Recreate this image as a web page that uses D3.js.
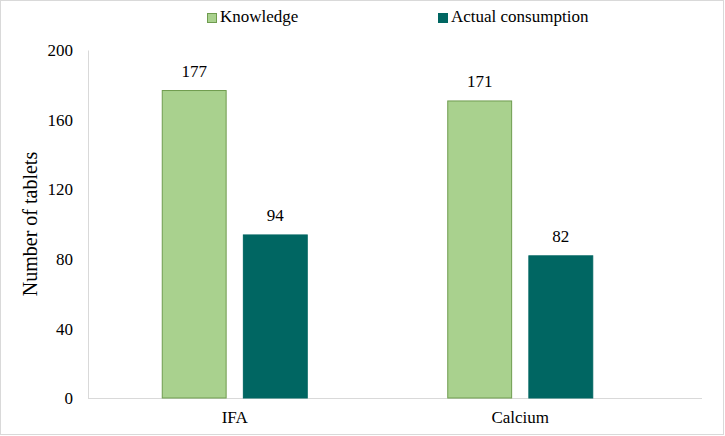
<!DOCTYPE html>
<html>
<head>
<meta charset="utf-8">
<script src="https://cdn.jsdelivr.net/npm/d3@7"></script>
<style>
  body { margin: 0; background: #fff; }
  svg text { font-family: "Liberation Serif", "Times New Roman", serif; fill: #000; }
</style>
</head>
<body>
<svg id="chart" width="725" height="436"></svg>
<script>
// chart data
var categories = ["IFA", "Calcium"];
var seriesNames = ["Knowledge", "Actual consumption"];
var knowledge = [177, 171];
var actual = [94, 82];
var yTicks = [0, 40, 80, 120, 160, 200];

var colors = { "Knowledge": "#a9d18e", "Actual consumption": "#006662" };
var strokes = { "Knowledge": "#6f9c4f", "Actual consumption": "#006662" };

var W = 725, H = 436,
    plotLeft = 88, plotRight = 702,
    plotTop = 50, plotBottom = 398;

var svg = d3.select("#chart");

// outer border
svg.append("rect")
    .attr("x", 0.5).attr("y", 0.5)
    .attr("width", W - 2).attr("height", H - 2)
    .attr("fill", "#fff")
    .attr("stroke", "#d9d9d9");

var x = d3.scaleBand()
    .domain(categories)
    .range([92, 663]);

var inner = d3.scaleBand()
    .domain(seriesNames)
    .range([x.bandwidth() / 2 - 73, x.bandwidth() / 2 + 73])
    .paddingInner(0.2);

var y = d3.scaleLinear()
    .domain([0, 200])
    .range([plotBottom, plotTop]);

// y axis
var yAxis = svg.append("g")
    .attr("transform", "translate(" + plotLeft + ",0)")
    .call(d3.axisLeft(y).tickValues(yTicks).tickSize(0).tickPadding(15));
yAxis.attr("font-family", null);
yAxis.select(".domain").attr("stroke", "#d9d9d9");
yAxis.selectAll("text")
    .style("font-size", "17px")
    .attr("dy", "0.34em");

// x axis line
svg.append("line")
    .attr("x1", plotLeft).attr("x2", plotRight)
    .attr("y1", plotBottom + 0.5).attr("y2", plotBottom + 0.5)
    .attr("stroke", "#d9d9d9");

svg.selectAll(".xlabel")
    .data(categories)
    .enter()
  .append("text")
    .attr("class", "xlabel")
    .attr("x", d => x(d) + x.bandwidth() / 2)
    .attr("y", 423)
    .attr("text-anchor", "middle")
    .style("font-size", "17px")
    .text(d => d);

// y title
svg.append("text")
    .attr("transform", "translate(37," + (plotTop + plotBottom) / 2 + ")rotate(-90)")
    .attr("text-anchor", "middle")
    .style("font-size", "20px")
    .text("Number of tablets");

// bars
var rows = [];
categories.forEach((c, i) => {
    rows.push({ cat: c, series: "Knowledge", value: knowledge[i] });
    rows.push({ cat: c, series: "Actual consumption", value: actual[i] });
});

svg.selectAll(".bar")
    .data(rows)
    .enter()
  .append("rect")
    .attr("class", "bar")
    .attr("x", d => x(d.cat) + inner(d.series) + 0.5)
    .attr("y", d => y(d.value) + 0.5)
    .attr("width", inner.bandwidth() - 1)
    .attr("height", d => plotBottom - y(d.value) - 0.5)
    .attr("fill", d => colors[d.series])
    .attr("stroke", d => strokes[d.series])
    .attr("stroke-width", 1);

svg.selectAll(".value")
    .data(rows)
    .enter()
  .append("text")
    .attr("class", "value")
    .attr("x", d => x(d.cat) + inner(d.series) + inner.bandwidth() / 2)
    .attr("y", d => y(d.value) - 13)
    .attr("text-anchor", "middle")
    .style("font-size", "17px")
    .text(d => d.value);

// legend
var legendX = [207, 438];
var legend = svg.selectAll(".legend")
    .data(seriesNames)
    .enter()
  .append("g")
    .attr("class", "legend")
    .attr("transform", (d, i) => "translate(" + legendX[i] + ",13)");

legend.append("rect")
    .attr("x", 0.5).attr("y", 0.5)
    .attr("width", 9).attr("height", 9)
    .attr("fill", d => colors[d])
    .attr("stroke", d => strokes[d]);

legend.append("text")
    .attr("x", 13)
    .attr("y", 9)
    .style("font-size", "17px")
    .text(d => d);
</script>
</body>
</html>
